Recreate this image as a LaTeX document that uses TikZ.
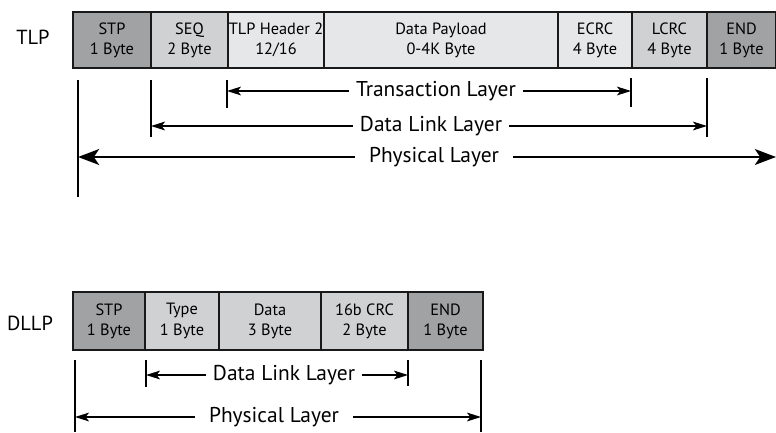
\documentclass[tikz,border=0pt]{standalone}
\usepackage{fontspec}
\setmainfont{PT Sans}
\usetikzlibrary{arrows.meta}
\definecolor{darkfield}{HTML}{A0A2A4}
\definecolor{midfield}{HTML}{D0D1D3}
\definecolor{lightfield}{HTML}{E6E7E8}
\tikzset{
  field/.style={draw=black!90, line width=1pt},
  fieldtext/.style={align=center, font=\fontsize{9.3}{11.5}\selectfont, inner sep=0pt},
  tick/.style={line width=0.75pt},
  layer/.style={-{Stealth[length=8pt, width=5pt, inset=2pt]}, line width=0.75pt},
  biglayer/.style={-{Stealth[length=12pt, width=9pt, inset=3pt]}, line width=1.4pt},
  layertext/.style={font=\fontsize{12.2}{14}\selectfont, inner sep=4pt},
  rowtext/.style={font=\fontsize{11.6}{13}\selectfont}
}
\begin{document}
\begin{tikzpicture}[x=0.02cm, y=-0.02cm, text=black]
\useasboundingbox (0,0) rectangle (776,432);

% TLP
\node[rowtext] (tlp) at (33,37) {TLP};
\foreach \l/\r/\c/\t [count=\i] in {
  73/151/darkfield/{STP\\1 Byte},
  151/228/midfield/{SEQ\\2 Byte},
  228/324/lightfield/{TLP Header 2\\12/16},
  324/558/lightfield/{Data Payload\\0-4K Byte},
  558/632/lightfield/{ECRC\\4 Byte},
  632/707/midfield/{LCRC\\4 Byte},
  707/776/darkfield/{END\\1 Byte}}
{
  \draw[field, fill=\c] (\l,12) rectangle (\r,68);
  \node[fieldtext] (tlpf\i) at ({(\l+\r)/2},40) {\t};
}

\coordinate (ta) at (78,80);
\coordinate (tb) at (151,80);
\coordinate (tc) at (227,80);
\coordinate (td) at (631,78);
\coordinate (te) at (707,78);
\draw[tick] (ta) -- ++(0,117);
\draw[tick] (tb) -- ++(0,57);
\draw[tick] (tc) -- ++(0,28);
\draw[tick] (td) -- ++(0,29);
\draw[tick] (te) -- ++(0,59);

\node[layertext] (trans) at (436,91) {Transaction Layer};
\draw[layer] (trans.west) -- (trans.west -| tc);
\draw[layer] (trans.east) -- (trans.east -| td);

\node[layertext] (tlink) at (431,126) {Data Link Layer};
\draw[layer] (tlink.west) -- (tlink.west -| tb);
\draw[layer] (tlink.east) -- (tlink.east -| te);

\node[layertext, inner xsep=8pt] (tphys) at (434,157) {Physical Layer};
\draw[biglayer] (tphys.west) -- (tphys.west -| ta);
\draw[biglayer] (tphys.east) -- (776,157);

% DLLP
\node[rowtext] (dllp) at (30,323) {DLLP};
\foreach \l/\r/\c/\t [count=\i] in {
  73/145/darkfield/{STP\\1 Byte},
  145/219/midfield/{Type\\1 Byte},
  219/321/midfield/{Data\\3 Byte},
  321/408/midfield/{16b CRC\\2 Byte},
  408/483/darkfield/{END\\1 Byte}}
{
  \draw[field, fill=\c] (\l,292) rectangle (\r,350);
  \node[fieldtext] (dllpf\i) at ({(\l+\r)/2},321) {\t};
}

\coordinate (da) at (75,360);
\coordinate (db) at (146,360);
\coordinate (dc) at (408,360);
\coordinate (dd) at (481,360);
\draw[tick] (da) -- (75,432);
\draw[tick] (db) -- ++(0,27);
\draw[tick] (dc) -- ++(0,26);
\draw[tick] (dd) -- (481,432);

\node[layertext] (dlink) at (284,375) {Data Link Layer};
\draw[layer] (dlink.west) -- (dlink.west -| db);
\draw[layer] (dlink.east) -- (dlink.east -| dc);

\node[layertext, inner xsep=8pt] (dphys) at (274,417) {Physical Layer};
\draw[layer] (dphys.west) -- (dphys.west -| da);
\draw[layer] (dphys.east) -- (dphys.east -| dd);

\end{tikzpicture}
\end{document}
